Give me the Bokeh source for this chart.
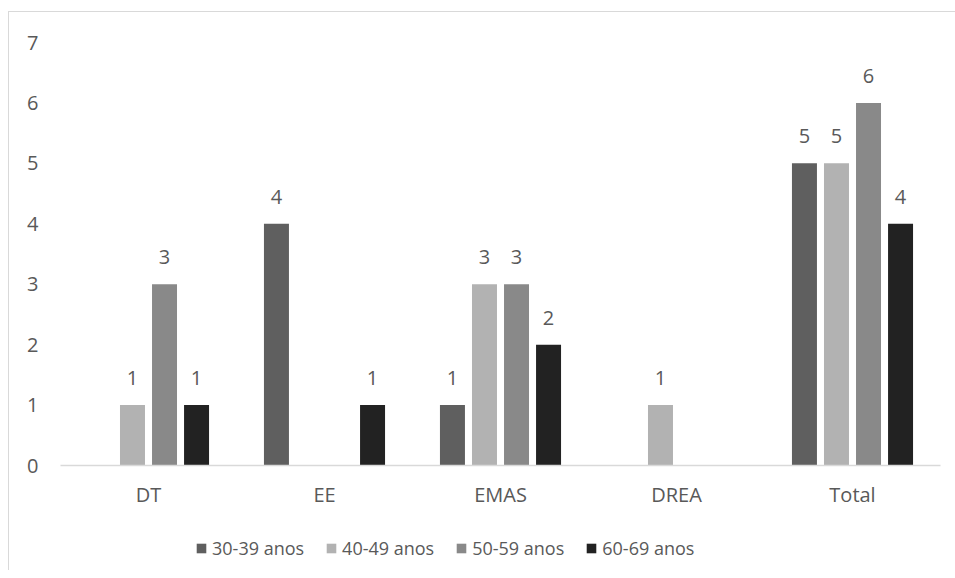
from bokeh.plotting import figure
from bokeh.layouts import column
from bokeh.models import ColumnDataSource, Legend, LegendItem, FixedTicker, Range1d
from bokeh.transform import dodge
from bokeh.core.properties import value
from bokeh.embed import file_html
from bokeh.resources import INLINE

categories = ["DT", "EE", "EMAS", "DREA", "Total"]
series_names = ["30-39 anos", "40-49 anos", "50-59 anos", "60-69 anos"]
v_30_39 = [0, 4, 1, 0, 5]
v_40_49 = [1, 0, 3, 1, 5]
v_50_59 = [3, 0, 3, 0, 6]
v_60_69 = [1, 1, 2, 0, 4]
y_ticks = [0, 1, 2, 3, 4, 5, 6, 7]

series_values = [v_30_39, v_40_49, v_50_59, v_60_69]
colors = ["#5f5f5f", "#b2b2b2", "#898989", "#222222"]
offsets = [-0.273, -0.091, 0.091, 0.273]

FONT = "Open Sans"
TXT = "#595959"

p = figure(x_range=categories, y_range=Range1d(0, 7), width=946, height=508,
           output_backend="svg", toolbar_location=None,
           min_border_left=51, min_border_right=15, min_border_top=30, min_border_bottom=55)
p.outline_line_color = None
p.background_fill_color = "white"
p.border_fill_color = "white"
p.xgrid.grid_line_color = None
p.ygrid.grid_line_color = None

for name, vals, col, off in zip(series_names, series_values, colors, offsets):
    xs = [c for c, v in zip(categories, vals) if v > 0]
    ys = [v for v in vals if v > 0]
    src = ColumnDataSource(dict(x=xs, y=ys, lab=[str(v) for v in ys]))
    p.vbar(x=dodge("x", off, range=p.x_range), top="y", width=0.142, source=src,
           fill_color=col, line_color=None)
    p.text(x=dodge("x", off, range=p.x_range), y="y", text="lab", source=src,
           text_align="center", text_baseline="bottom", y_offset=-20,
           text_font=value(FONT), text_font_size="20px", text_color=TXT)

p.xaxis.axis_line_color = "#d9d9d9"
p.xaxis.axis_line_width = 1.5
p.xaxis.major_tick_line_color = None
p.xaxis.minor_tick_line_color = None
p.xaxis.major_tick_out = 0
p.xaxis.major_label_standoff = 15
p.xaxis.major_label_text_font = FONT
p.xaxis.major_label_text_font_size = "20px"
p.xaxis.major_label_text_color = TXT

p.yaxis.axis_line_color = None
p.yaxis.major_tick_line_color = None
p.yaxis.minor_tick_line_color = None
p.yaxis.major_tick_out = 0
p.yaxis.ticker = FixedTicker(ticks=y_ticks)
p.yaxis.major_label_standoff = 22
p.yaxis.major_label_text_font = FONT
p.yaxis.major_label_text_font_size = "20px"
p.yaxis.major_label_text_color = TXT

# legend strip (swatch renderers sit outside the strip's visible range)
leg = figure(width=946, height=50, x_range=Range1d(0, 1), y_range=Range1d(0, 1),
             output_backend="svg", toolbar_location=None,
             x_axis_location=None, y_axis_location=None,
             min_border_left=0, min_border_right=0, min_border_top=0, min_border_bottom=0)
leg.outline_line_color = None
leg.xgrid.grid_line_color = None
leg.ygrid.grid_line_color = None
items = []
for name, col in zip(series_names, colors):
    r = leg.vbar(x=[-5], top=[-5], width=0.1, fill_color=col, line_color=None)
    items.append(LegendItem(label=name, renderers=[r]))
legend = Legend(items=items, orientation="horizontal", location=(135, 10),
                label_text_font=FONT, label_text_font_size="18px", label_text_color=TXT,
                glyph_width=12, glyph_height=12, label_standoff=5, spacing=21,
                border_line_color=None, background_fill_alpha=0, margin=0, padding=6)
leg.add_layout(legend, "center")

layout = column(p, leg)
layout.styles = {"border-left": "1px solid #d9d9d9", "border-top": "1px solid #d9d9d9",
                 "margin-left": "8px", "margin-top": "11px"}

open("out.html", "w").write(file_html(layout, INLINE))
